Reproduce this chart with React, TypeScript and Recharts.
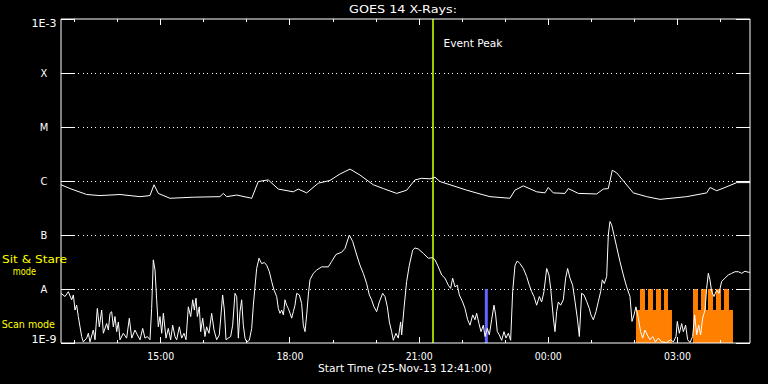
import React from 'react';
import { ComposedChart, Line, Area, XAxis, YAxis, ReferenceLine } from 'recharts';

const FONT = "'DejaVu Sans Condensed', 'DejaVu Sans', sans-serif";
const WHITE = '#ffffff';
const YELLOW = '#ffff00';

// time = minutes after start (25-Nov-13 12:41:00 UT); value = log10(flux, W/m^2)
const shortChannel: [number, number][] = [
  [0,-8.08],[5.6,-8.14],[10.2,-8.05],[14.9,-8.2],[17.2,-8.11],[19.5,-8.39],[21.8,-8.3],[24.1,-8.51],[26.5,-8.7],[28.8,-8.88],[31.1,-8.98],[35.8,-8.91],[38.1,-8.82],[40.4,-8.98],[45,-8.76],[47.4,-8.94],[50.6,-8.36],[53.4,-8.7],[56.7,-8.39],[59,-8.82],[63.6,-8.64],[66,-8.76],[68.3,-8.45],[70.6,-8.42],[72.9,-8.7],[75.2,-8.51],[77.6,-8.79],[79.9,-8.61],[82.2,-8.94],[86.8,-8.82],[91.5,-8.91],[95.2,-8.54],[98.5,-8.91],[103.1,-8.76],[106.4,-8.85],[110.1,-8.94],[113.8,-8.73],[117,-8.91],[120.3,-8.88],[124,-8.94],[126.3,-8.36],[128.6,-7.46],[131,-7.65],[133.3,-8.2],[135.6,-8.7],[137.9,-8.51],[140.3,-8.82],[142.6,-8.45],[146.3,-8.91],[149.5,-8.73],[152.8,-8.94],[155.6,-8.67],[158.8,-8.88],[161.2,-8.94],[164.9,-8.7],[168.1,-8.91],[171.4,-8.82],[174.2,-8.94],[177.4,-8.33],[180.7,-8.51],[183.5,-8.2],[185.8,-8.39],[188.1,-8.17],[190,-8.51],[192.7,-8.33],[194.6,-8.79],[197.4,-8.54],[200.6,-8.88],[202.9,-8.7],[206.2,-8.82],[209.9,-8.45],[213.2,-8.76],[216.9,-8.94],[220.6,-8.85],[225.2,-8.11],[227.6,-8.39],[229.9,-8.94],[233.1,-8.91],[236.4,-8.88],[239.2,-8.67],[242.4,-8.08],[244.8,-8.14],[247.1,-8.91],[249.4,-8.42],[251.7,-8.2],[254,-8.67],[256.4,-8.91],[258.7,-8.98],[262.4,-8.95],[265.7,-8.73],[268,-8.3],[270.3,-7.96],[272.6,-7.62],[275.9,-7.43],[279.6,-7.53],[283.3,-7.51],[286.6,-7.56],[290.3,-7.68],[293.5,-7.86],[296.8,-8.02],[300.5,-8.14],[302.8,-8.36],[305.1,-8.45],[307.5,-8.39],[309.8,-8.48],[312.1,-8.2],[314.4,-8.3],[316.7,-8.36],[319.1,-8.45],[321.4,-8.54],[323.7,-8.42],[326,-8.3],[328.4,-8.08],[332.1,-8.11],[335.3,-8.27],[337.6,-8.67],[340,-8.79],[342.3,-8.48],[344.6,-8.11],[346.9,-7.83],[351.6,-7.71],[356.2,-7.65],[363.2,-7.59],[367.8,-7.59],[372.5,-7.59],[377.1,-7.49],[383.2,-7.36],[391,-7.32],[395.7,-7.25],[401.7,-7.0],[406.4,-7.12],[412,-7.37],[416.6,-7.56],[421.2,-7.71],[425.9,-7.9],[429.6,-8.11],[432.8,-8.2],[436.1,-8.33],[439.8,-8.42],[443.5,-8.24],[448.2,-8.08],[451.4,-8.14],[454.7,-8.33],[457.5,-8.61],[460.7,-8.79],[463,-8.95],[466.7,-8.82],[470,-8.91],[473.2,-8.61],[474.7,-8.85],[477.9,-8.36],[481.6,-7.86],[485.3,-7.56],[490,-7.28],[493.2,-7.24],[497.9,-7.26],[504.8,-7.34],[511.8,-7.43],[517.8,-7.42],[521.1,-7.46],[525.7,-7.59],[530.4,-7.74],[535,-7.8],[539.7,-7.93],[542.9,-7.99],[545.7,-7.8],[549,-7.96],[552.2,-7.93],[555,-8.11],[559.6,-8.24],[562.9,-8.36],[566.6,-8.57],[569.9,-8.67],[573.6,-8.48],[576.8,-8.57],[579.1,-8.45],[582.4,-8.64],[585.2,-8.79],[588.4,-8.67],[590.8,-8.88],[594,-8.73],[596.8,-8.85],[600,-8.57],[603.3,-8.3],[605.6,-8.48],[607.9,-8.79],[610.7,-8.85],[614,-8.95],[617.2,-8.79],[620,-8.91],[623.3,-8.82],[626.5,-8.95],[629.3,-8.05],[632.6,-7.56],[635.8,-7.48],[639.5,-7.53],[644.2,-7.62],[648.8,-7.77],[652.5,-7.93],[655.8,-8.05],[659,-8.14],[662.7,-8.3],[666.5,-8.14],[669.7,-8.24],[672.9,-8.05],[676.7,-7.62],[679.9,-7.74],[682.3,-7.99],[686,-8.54],[688.3,-8.79],[690.6,-8.42],[692.9,-8.24],[696.2,-8.3],[699.9,-8.2],[703.1,-7.8],[705.9,-7.62],[709.2,-7.8],[712.9,-7.93],[716.2,-8.23],[719.4,-8.54],[722.2,-8.88],[725.4,-8.08],[728.7,-8.11],[732.4,-8.23],[736.1,-8.36],[738.4,-8.48],[741.7,-8.57],[745.4,-8.42],[748.7,-8.23],[751.9,-8.05],[754.2,-7.83],[757,-7.9],[760.3,-7.77],[762.6,-7.0],[764.9,-6.75],[767.2,-6.81],[770.5,-7.0],[774.2,-7.22],[778.8,-7.49],[783.5,-7.74],[788.1,-7.96],[792.8,-8.14],[795.6,-8.6],[798.4,-8.48],[801.1,-8.33],[804.4,-8.54],[807.6,-8.79],[810.4,-8.91],[813.7,-8.76],[816.9,-8.85],[820.6,-8.94],[824.4,-8.88],[828.1,-8.98],[832.3,-8.91],[836.9,-8.98],[843.9,-8.99],[849.4,-8.94],[853.2,-8.98],[856.9,-8.88],[858.7,-8.6],[861.5,-8.82],[864.8,-8.64],[867.1,-8.79],[870.3,-8.67],[873.1,-8.94],[876.4,-8.99],[880.1,-8.88],[882.9,-8.48],[885.7,-8.85],[888.5,-8.67],[891.2,-8.85],[894,-8.54],[897.3,-8.39],[899.6,-7.99],[901.9,-7.71],[904.2,-7.83],[906.6,-8.05],[909.8,-8.14],[913.5,-8.02],[916.8,-8.08],[920.5,-7.86],[925.1,-7.8],[929.8,-7.74],[934.4,-7.71],[939.1,-7.68],[943.7,-7.68],[948.4,-7.71],[953,-7.67],[957.7,-7.69],[960,-7.69],
];

const longChannel: [number, number][] = [
  [0,-6.07],[12.5,-6.14],[35.8,-6.25],[54.3,-6.27],[82.2,-6.25],[110,-6.29],[124,-6.27],[129.6,-6.07],[135.6,-6.23],[151.8,-6.32],[184.3,-6.3],[221.5,-6.29],[226.1,-6.23],[230.9,-6.29],[244.8,-6.26],[265.7,-6.32],[274.9,-6.01],[288.8,-5.98],[302.8,-6.15],[323.7,-6.2],[330.6,-6.15],[342.3,-6.22],[358.5,-6.04],[374.8,-5.99],[388.7,-5.87],[402.7,-5.78],[416.6,-5.89],[435.1,-6.07],[449.1,-6.14],[467.7,-6.23],[481.7,-6.17],[493.2,-5.98],[502.6,-5.95],[514.1,-5.96],[521.1,-5.93],[528,-6.01],[542,-6.07],[565.3,-6.17],[583.8,-6.24],[597.7,-6.29],[625.6,-6.32],[632.5,-6.17],[644.1,-6.09],[662.8,-6.2],[674.3,-6.22],[678.9,-6.12],[685.9,-6.22],[702.2,-6.23],[706.8,-6.14],[720.8,-6.23],[746.4,-6.24],[755.6,-6.15],[762.6,-6.14],[768.1,-5.8],[774.3,-5.85],[797.4,-6.22],[816.1,-6.29],[834.6,-6.34],[871.8,-6.29],[899.7,-6.22],[904.3,-6.12],[913.6,-6.18],[925.2,-6.12],[941.5,-6.03],[960,-6.03],
];

// mode indicator: -8.39 = scan level, -8.0 = sit & stare level, null = off
const modeFlag: [number, number | null][] = [
  [801.1,-8.39],[806.7,-8.0],[813.7,-8.39],[817.9,-8.0],[824.9,-8.39],[829.0,-8.0],[836.0,-8.39],[840.2,-8.0],[845.7,-8.39],[851.3,-8.39],[852,null],
  [880.6,-8.0],[887.5,-8.39],[891.7,-8.0],[898.7,-8.39],[901.5,-8.0],[908.5,-8.39],[912.6,-8.0],[919.6,-8.39],[923.7,-8.0],[930.7,-8.39],[936.3,-8.39],
];

const hourTicks = [19, 79, 139, 199, 259, 319, 379, 439, 499, 559, 619, 679, 739, 799, 859, 919];
const hourLabelTicks = [139, 319, 499, 679, 859];
const hourLabels = ['15:00', '18:00', '21:00', '00:00', '03:00'];
const levelTicks = [-9, -8, -7, -6, -5, -4, -3];
const levelLabels = ['1E-9', 'A', 'B', 'C', 'M', 'X', '1E-3'];
const gridLevels = [-8, -7, -6, -5, -4];
const eventPeak = 518.3;
const scanMarker = [{ m: 592.6, v: -9 }, { m: 592.6, v: -8 }];

const shortData = shortChannel.map(([m, v]) => ({ m, v }));
const longData = longChannel.map(([m, v]) => ({ m, v }));
const modeData = modeFlag.map(([m, v]) => ({ m, v }));

const LeftTick = (props: any) => {
  const { x, y, payload } = props;
  const val = payload.value;
  const label = levelLabels[levelTicks.indexOf(val)];
  const base = val === -3 ? y + 7.7 : val === -9 ? y + 0.3 : y + 4.3;
  const extra: any = label.length > 1 ? { textLength: 25, lengthAdjust: 'spacingAndGlyphs' } : {};
  return (
    <g>
      <line x1={x} x2={x + 14} y1={y} y2={y} stroke={WHITE} shapeRendering="crispEdges" />
      <text x={x - 17} y={base} fill={WHITE} fontSize={11} fontFamily={FONT} textAnchor="middle" {...extra}>{label}</text>
    </g>
  );
};

const RightTick = (props: any) => {
  const { x, y } = props;
  return <line x1={x - 14} x2={x} y1={y} y2={y} stroke={WHITE} shapeRendering="crispEdges" />;
};

const BottomTick = (props: any) => {
  const { x, y, payload } = props;
  const idx = hourLabelTicks.indexOf(payload.value);
  const major = idx >= 0;
  return (
    <g>
      <line x1={x} x2={x} y1={y} y2={y - (major ? 6 : 3)} stroke={WHITE} shapeRendering="crispEdges" />
      {major && (
        <text x={x} y={y + 16.5} fill={WHITE} fontSize={11} fontFamily={FONT} textAnchor="middle" textLength={27} lengthAdjust="spacingAndGlyphs">{hourLabels[idx]}</text>
      )}
    </g>
  );
};

const TopTick = (props: any) => {
  const { x, y, payload } = props;
  const major = hourLabelTicks.indexOf(payload.value) >= 0;
  return <line x1={x} x2={x} y1={y} y2={y + (major ? 6 : 3)} stroke={WHITE} shapeRendering="crispEdges" />;
};

const EventLabel = (props: any) => {
  const vb = props.viewBox || {};
  return (
    <text x={vb.x + 10.5} y={vb.y + 28} fill={WHITE} fontSize={11} fontFamily={FONT} textLength={59} lengthAdjust="spacingAndGlyphs">Event Peak</text>
  );
};

export default function App() {
  return (
    <div style={{ position: 'absolute', left: 0, top: 0, width: 768, height: 384, background: '#000', overflow: 'hidden' }}>
      <ComposedChart width={768} height={384} margin={{ top: 0, right: 0, bottom: 11, left: 0 }} style={{ background: '#000' }}>
        <XAxis xAxisId="bottom" dataKey="m" type="number" domain={[0, 960]} allowDataOverflow ticks={hourTicks} interval={0}
          orientation="bottom" height={30} tickSize={0} tickMargin={0} tickLine={false} tick={<BottomTick />}
          axisLine={{ stroke: WHITE, strokeWidth: 1 }} />
        <XAxis xAxisId="top" dataKey="m" type="number" domain={[0, 960]} allowDataOverflow ticks={hourTicks} interval={0}
          orientation="top" height={19} tickSize={0} tickMargin={0} tickLine={false} tick={<TopTick />}
          axisLine={{ stroke: WHITE, strokeWidth: 1 }} />
        <YAxis yAxisId="left" type="number" domain={[-9, -3]} allowDataOverflow ticks={levelTicks} interval={0}
          orientation="left" width={61} tickSize={0} tickMargin={0} tickLine={false} tick={<LeftTick />}
          axisLine={{ stroke: WHITE, strokeWidth: 1 }} />
        <YAxis yAxisId="right" type="number" domain={[-9, -3]} allowDataOverflow ticks={levelTicks} interval={0}
          orientation="right" width={18} tickSize={0} tickMargin={0} tickLine={false} tick={<RightTick />}
          axisLine={{ stroke: WHITE, strokeWidth: 1 }} />

        {gridLevels.map((g) => (
          <ReferenceLine key={g} xAxisId="bottom" yAxisId="left" y={g} stroke={WHITE} strokeDasharray="1 3.3" strokeWidth={1} shapeRendering="crispEdges" />
        ))}

        <Area xAxisId="bottom" yAxisId="left" data={modeData} dataKey="v" type="stepAfter" baseValue={-9}
          fill="#ff8000" fillOpacity={1} stroke="none" connectNulls={false} isAnimationActive={false} dot={false} activeDot={false} />

        <ReferenceLine xAxisId="bottom" yAxisId="left" x={eventPeak} stroke="#99cc00" strokeWidth={2} label={<EventLabel />} />
        <ReferenceLine xAxisId="bottom" yAxisId="left" segment={[{ x: scanMarker[0].m, y: scanMarker[0].v }, { x: scanMarker[1].m, y: scanMarker[1].v }]}
          stroke="#6464ff" strokeWidth={3} />

        <Line xAxisId="bottom" yAxisId="left" data={longData} dataKey="v" type="linear" stroke={WHITE} strokeWidth={1}
          dot={false} activeDot={false} isAnimationActive={false} />
        <Line xAxisId="bottom" yAxisId="left" data={shortData} dataKey="v" type="linear" stroke={WHITE} strokeWidth={1}
          dot={false} activeDot={false} isAnimationActive={false} />
      </ComposedChart>
      <svg width={768} height={384} style={{ position: 'absolute', left: 0, top: 0, pointerEvents: 'none' }}>
        <text x={403} y={13} fill={WHITE} fontSize={11} fontFamily={FONT} textAnchor="middle" textLength={108} lengthAdjust="spacingAndGlyphs">GOES 14 X-Rays:</text>
        <text x={405} y={371.5} fill={WHITE} fontSize={11} fontFamily={FONT} textAnchor="middle" textLength={174} lengthAdjust="spacingAndGlyphs">Start Time (25-Nov-13 12:41:00)</text>
        <text x={2} y={263} fill={YELLOW} fontSize={11} fontFamily={FONT} textLength={65} lengthAdjust="spacingAndGlyphs">Sit &amp; Stare</text>
        <text x={12.7} y={275} fill={YELLOW} fontSize={11} fontFamily={FONT} textLength={23.3} lengthAdjust="spacingAndGlyphs">mode</text>
        <text x={1.7} y={328} fill={YELLOW} fontSize={11} fontFamily={FONT} textLength={53.3} lengthAdjust="spacingAndGlyphs">Scan mode</text>
      </svg>
    </div>
  );
}
